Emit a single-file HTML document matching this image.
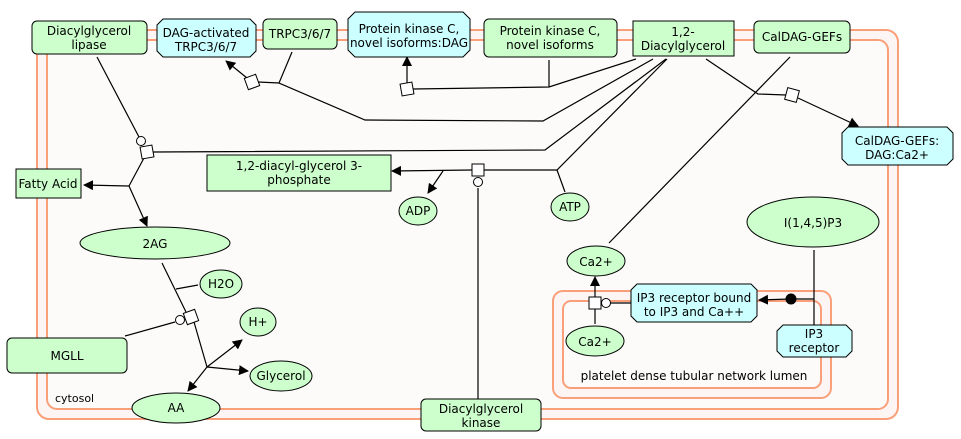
<!DOCTYPE html>
<html><head><meta charset="utf-8"><style>
html,body{margin:0;padding:0;background:#fff;}
svg{display:block;font-family:"DejaVu Sans","Liberation Sans",sans-serif;font-size:12px;}
</style></head><body>
<svg width="961" height="439" viewBox="0 0 961 439" xmlns="http://www.w3.org/2000/svg">
<defs>
<marker id="a" markerWidth="10" markerHeight="10" refX="9" refY="5" orient="auto" markerUnits="userSpaceOnUse"><path d="M0,0 L10,5 L0,10 z" fill="#000"/></marker>
</defs>
<!-- compartments -->
<rect x="37" y="30" width="861" height="389" rx="12" fill="#fdf5f3" stroke="#f9a07a" stroke-width="2"/>
<rect x="47" y="40" width="841" height="369" rx="10" fill="#fcfbfa" stroke="#f9a07a" stroke-width="2"/>
<rect x="553" y="291" width="278" height="107" rx="10" fill="#fdf5f3" stroke="#f9a07a" stroke-width="2"/>
<rect x="563" y="301" width="258" height="87" rx="8" fill="#fcfbfa" stroke="#f9a07a" stroke-width="2"/>
<text x="55" y="402" font-size="11">cytosol</text>
<text x="694" y="380" text-anchor="middle">platelet dense tubular network lumen</text>

<g stroke="#000" stroke-width="1.2" fill="none">
<!-- TRPC -->
<polyline points="292,52 279,83 365,120 543,121 653,59"/>
<line x1="279" y1="83" x2="258" y2="82"/>
<line x1="247" y1="78" x2="226" y2="61" marker-end="url(#a)"/>
<!-- PKC -->
<polyline points="413,89 549,87 636,59"/>
<line x1="549" y1="87" x2="549" y2="60"/>
<line x1="407" y1="83" x2="407" y2="57" marker-end="url(#a)"/>
<!-- DAG lipase -->
<line x1="97" y1="57" x2="139" y2="137"/>
<polyline points="153,152 545,150 666,59"/>
<line x1="144" y1="158" x2="129" y2="186"/>
<line x1="129" y1="186" x2="84" y2="185" marker-end="url(#a)"/>
<line x1="129" y1="186" x2="147" y2="226" marker-end="url(#a)"/>
<!-- DAG kinase -->
<line x1="472" y1="170" x2="392" y2="171" marker-end="url(#a)"/>
<line x1="443" y1="171" x2="428" y2="193" marker-end="url(#a)"/>
<polyline points="484,170 557,170 667,59"/>
<line x1="557" y1="170" x2="565" y2="192"/>
<line x1="478" y1="188" x2="478" y2="399"/>
<!-- CalDAG -->
<polyline points="706,59 758,94 786,95"/>
<line x1="798" y1="98" x2="858" y2="126" marker-end="url(#a)"/>
<line x1="790" y1="57" x2="609" y2="243"/>
<!-- 2AG -->
<line x1="162" y1="263" x2="186" y2="312"/>
<line x1="194" y1="322" x2="207" y2="367"/>
<line x1="176" y1="289" x2="198" y2="285"/>
<line x1="125" y1="336" x2="175" y2="322"/>
<line x1="207" y1="367" x2="242" y2="340" marker-end="url(#a)"/>
<line x1="207" y1="367" x2="248" y2="371" marker-end="url(#a)"/>
<line x1="207" y1="367" x2="188" y2="391" marker-end="url(#a)"/>
<!-- Ca transport -->
<line x1="610" y1="303" x2="631" y2="303"/>
<line x1="595" y1="297" x2="595" y2="277" marker-end="url(#a)"/>
<line x1="595" y1="309" x2="595" y2="324"/>
<!-- IP3 -->
<line x1="814" y1="250" x2="814" y2="325"/>
<line x1="814" y1="299" x2="791" y2="299"/>
<line x1="791" y1="299" x2="759" y2="300" marker-end="url(#a)"/>
</g>
<circle cx="791" cy="299" r="5.5" fill="#000"/>

<!-- process squares & circles -->
<g fill="#fff" stroke="#000" stroke-width="1">
<rect x="246" y="76" width="12" height="12" transform="rotate(-20 252 82)"/>
<rect x="401" y="83" width="12" height="12" transform="rotate(-10 407 89)"/>
<circle cx="141" cy="141" r="4.5"/>
<rect x="141" y="146" width="12" height="12" transform="rotate(-10 147 152)"/>
<rect x="472" y="164" width="12" height="12"/>
<circle cx="478" cy="182" r="4.5"/>
<rect x="786" y="89" width="12" height="12" transform="rotate(15 792 95)"/>
<circle cx="180" cy="320" r="4.5"/>
<rect x="185" y="311" width="12" height="12" transform="rotate(-20 191 317)"/>
<rect x="589" y="297" width="12" height="12"/>
<circle cx="606" cy="303" r="4.5"/>
</g>

<!-- nodes -->
<g stroke="#000" stroke-width="1">
<rect x="32" y="21" width="115" height="33" rx="5" fill="#ccffcc"/>
<polygon points="163,19 250,19 256,25 256,51 250,57 163,57 157,51 157,25" fill="#ccffff"/>
<rect x="263" y="19" width="74" height="30" rx="5" fill="#ccffcc"/>
<polygon points="355,12 463,12 470,19 470,50 463,57 355,57 348,50 348,19" fill="#ccffff"/>
<rect x="484" y="19" width="133" height="38" rx="5" fill="#ccffcc"/>
<rect x="633" y="21" width="101" height="35" fill="#ccffcc"/>
<rect x="754" y="21" width="96" height="32" rx="5" fill="#ccffcc"/>
<polygon points="848,127 947,127 953,133 953,159 947,165 848,165 842,159 842,133" fill="#ccffff"/>
<rect x="16" y="169" width="65" height="29" fill="#ccffcc"/>
<rect x="207" y="155" width="184" height="36" fill="#ccffcc"/>
<ellipse cx="418" cy="211" rx="19" ry="14" fill="#ccffcc"/>
<ellipse cx="570" cy="207" rx="19" ry="14" fill="#ccffcc"/>
<ellipse cx="155" cy="243" rx="75" ry="16" fill="#ccffcc"/>
<ellipse cx="221" cy="284" rx="21" ry="14" fill="#ccffcc"/>
<ellipse cx="258" cy="322" rx="18" ry="14" fill="#ccffcc"/>
<ellipse cx="281" cy="376" rx="31" ry="15" fill="#ccffcc"/>
<rect x="7" y="338" width="120" height="35" rx="5" fill="#ccffcc"/>
<ellipse cx="176" cy="408" rx="44" ry="15" fill="#ccffcc"/>
<rect x="421" y="399" width="120" height="32" rx="5" fill="#ccffcc"/>
<ellipse cx="813" cy="222" rx="66" ry="25" fill="#ccffcc"/>
<ellipse cx="596" cy="261" rx="29" ry="15" fill="#ccffcc"/>
<ellipse cx="595" cy="341" rx="29" ry="15" fill="#ccffcc"/>
<polygon points="637,284 751,284 757,290 757,316 751,322 637,322 631,316 631,290" fill="#ccffff"/>
<polygon points="783,325 846,325 852,331 852,351 846,357 783,357 777,351 777,331" fill="#ccffff"/>
</g>

<g text-anchor="middle" fill="#000">
<text x="89" y="35">Diacylglycerol</text><text x="89" y="49">lipase</text>
<text x="206" y="37">DAG-activated</text><text x="206" y="51">TRPC3/6/7</text>
<text x="300" y="38">TRPC3/6/7</text>
<text x="409" y="33">Protein kinase C,</text><text x="409" y="47">novel isoforms:DAG</text>
<text x="550" y="35">Protein kinase C,</text><text x="550" y="49">novel isoforms</text>
<text x="683" y="36">1,2-</text><text x="683" y="50">Diacylglycerol</text>
<text x="802" y="41">CalDAG-GEFs</text>
<text x="897" y="145">CalDAG-GEFs:</text><text x="897" y="159">DAG:Ca2+</text>
<text x="48" y="188">Fatty Acid</text>
<text x="299" y="170">1,2-diacyl-glycerol 3-</text><text x="299" y="184">phosphate</text>
<text x="418" y="215">ADP</text>
<text x="570" y="211">ATP</text>
<text x="155" y="248">2AG</text>
<text x="221" y="288">H2O</text>
<text x="258" y="326">H+</text>
<text x="281" y="380">Glycerol</text>
<text x="67" y="360">MGLL</text>
<text x="176" y="412">AA</text>
<text x="481" y="413">Diacylglycerol</text><text x="481" y="427">kinase</text>
<text x="813" y="227">I(1,4,5)P3</text>
<text x="596" y="266">Ca2+</text>
<text x="595" y="346">Ca2+</text>
<text x="694" y="302">IP3 receptor bound</text><text x="694" y="316">to IP3 and Ca++</text>
<text x="814" y="338">IP3</text><text x="814" y="352">receptor</text>
</g>
</svg>
</body></html>
